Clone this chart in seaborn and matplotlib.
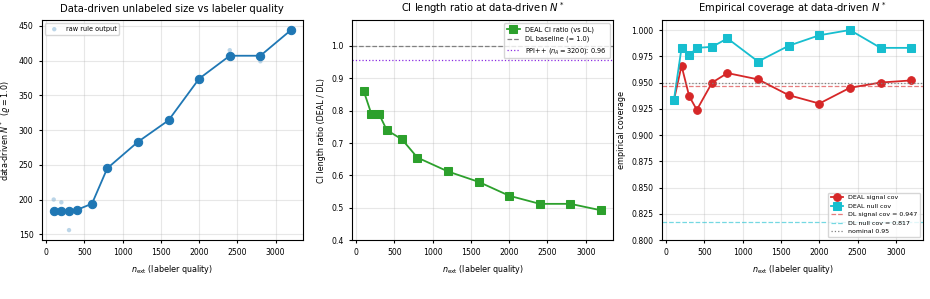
import numpy as np
import pandas as pd
import matplotlib
matplotlib.use("Agg")
import matplotlib.pyplot as plt
import seaborn as sns

n_ext = [100, 200, 300, 400, 600, 800, 1200, 1600, 2000, 2400, 2800, 3200]
n_star = [184, 184, 184, 185, 194, 245, 283, 314, 374, 407, 407, 444]
n_raw = [200, 196, 156, 185, 194, 245, 283, 314, 374, 415, 399, 444]
ci_ratio = [0.860, 0.789, 0.789, 0.740, 0.711, 0.655, 0.612, 0.580, 0.537, 0.512, 0.512, 0.492]
ppi_ratio = 0.955
cov_signal = [0.933, 0.966, 0.937, 0.924, 0.950, 0.959, 0.953, 0.938, 0.930, 0.945, 0.950, 0.952]
cov_null = [0.933, 0.983, 0.976, 0.983, 0.984, 0.992, 0.970, 0.985, 0.995, 1.000, 0.983, 0.983]
dl_signal = 0.947
dl_null = 0.817

df = pd.DataFrame({"n_ext": n_ext, "n_star": n_star, "n_raw": n_raw,
                   "ratio": ci_ratio, "sig": cov_signal, "null": cov_null})

plt.rcParams.update({"xtick.labelsize": 5.6, "ytick.labelsize": 5.6,
                     "axes.labelsize": 5.8, "axes.titlesize": 7.2,
                     "xtick.major.size": 2.5, "ytick.major.size": 2.5})

fig, axes = plt.subplots(1, 3, figsize=(9.3, 2.99), dpi=100)
fig.subplots_adjust(left=0.045, right=0.9925, top=0.933, bottom=0.197, wspace=0.188)
xlab = r"$n_{\rm ext}$ (labeler quality)"

ax = axes[0]
sns.scatterplot(data=df, x="n_ext", y="n_raw", ax=ax, color="C0", alpha=0.3, s=10,
                edgecolor="none", label="raw rule output")
sns.lineplot(data=df, x="n_ext", y="n_star", ax=ax, color="C0", marker="o",
             markersize=6, markeredgecolor="C0", linewidth=1.3)
ax.set_title("Data-driven unlabeled size vs labeler quality")
ax.set_xlabel(xlab)
ax.set_ylabel(r"data-driven $N^*$  ($\varrho = 1.0$)")
ax.legend(loc="upper left", fontsize=4.7)
ax.grid(alpha=0.3)

ax = axes[1]
sns.lineplot(data=df, x="n_ext", y="ratio", ax=ax, color="C2", marker="s",
             markersize=5.5, markeredgecolor="C2", linewidth=1.3,
             label="DEAL CI ratio (vs DL)")
ax.axhline(1.0, color="gray", linestyle="--", linewidth=0.9, label="DL baseline (= 1.0)")
ax.axhline(ppi_ratio, color="blueviolet", linestyle=":", linewidth=0.9,
           label=r"PPI++ ($n_A = 3200$): 0.96")
ax.set_ylim(0.4, 1.08)
ax.set_title(r"CI length ratio at data-driven $N^*$")
ax.set_xlabel(xlab)
ax.set_ylabel("CI length ratio (DEAL / DL)")
ax.legend(loc="upper right", fontsize=4.8)
ax.grid(alpha=0.3)

ax = axes[2]
sns.lineplot(data=df, x="n_ext", y="sig", ax=ax, color="C3", marker="o",
             markersize=5.5, markeredgecolor="C3", linewidth=1.3, label="DEAL signal cov")
sns.lineplot(data=df, x="n_ext", y="null", ax=ax, color="C9", marker="s",
             markersize=5.5, markeredgecolor="C9", linewidth=1.3, label="DEAL null cov")
ax.axhline(dl_signal, color="C3", linestyle="--", linewidth=0.9, alpha=0.6,
           label=f"DL signal cov = {dl_signal:.3f}")
ax.axhline(dl_null, color="C9", linestyle="--", linewidth=0.9, alpha=0.6,
           label=f"DL null cov = {dl_null:.3f}")
ax.axhline(0.95, color="gray", linestyle=":", linewidth=0.9, label="nominal 0.95")
ax.set_ylim(0.8, 1.0095)
ax.set_title(r"Empirical coverage at data-driven $N^*$")
ax.set_xlabel(xlab)
ax.set_ylabel("empirical coverage")
ax.legend(loc="lower right", fontsize=4.5)
ax.grid(alpha=0.3)

fig.savefig("out.png", dpi=100)
